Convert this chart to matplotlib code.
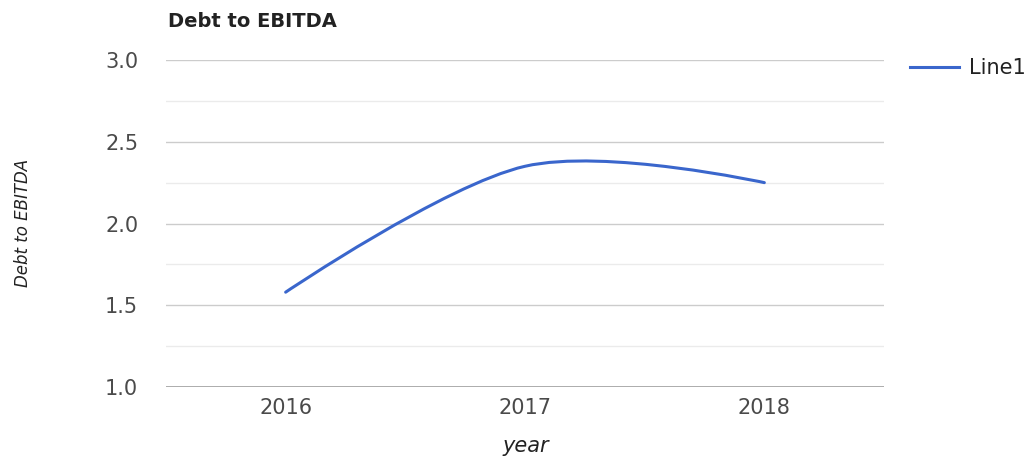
import numpy as np
import matplotlib
matplotlib.use('Agg')
import matplotlib.pyplot as plt
from matplotlib.path import Path
from matplotlib.patches import PathPatch
from matplotlib.lines import Line2D

plt.rcParams['font.family'] = ['DejaVu Sans']

# data
years = [2016, 2017, 2018]
debt_to_ebitda = [1.58, 2.35, 2.25]
series_name = 'Line1'
y_ticks = [1.0, 1.5, 2.0, 2.5, 3.0]

LINE_COLOR = '#3a66cc'
TEXT_COLOR = '#222222'

#smooth curve through the points (cubic bezier, end points get no tangent)
def smooth_path(xs, ys):
	pts = np.column_stack([xs, ys]).astype(float)
	n = len(pts)
	tang = np.zeros_like(pts)
	for i in range(1, n - 1):
		tang[i] = (pts[i+1] - pts[i-1]) / 2.0
	verts = [pts[0]]
	codes = [Path.MOVETO]
	for i in range(n - 1):
		verts += [pts[i] + tang[i] / 3.0, pts[i+1] - tang[i+1] / 3.0, pts[i+1]]
		codes += [Path.CURVE4] * 3
	return Path(verts, codes)

fig = plt.figure(figsize=(10.36, 4.63), dpi=100)
ax = fig.add_axes([0.1602, 0.1641, 0.6931, 0.7063])

ax.set_xlim(2015.5, 2018.5)
ax.set_ylim(1.0, 3.0)

# gridlines
ax.set_yticks(y_ticks)
ax.set_yticks(np.arange(1.25, 3.0, 0.5), minor=True)
ax.yaxis.grid(True, which='major', color='#cccccc', linewidth=1.0)
ax.yaxis.grid(True, which='minor', color='#ebebeb', linewidth=1.0)
ax.axhline(1.0, color='#a0a0a0', linewidth=1.2, zorder=2)
ax.set_axisbelow(True)
for s in ax.spines.values():
	s.set_visible(False)

ax.set_xticks(years)
ax.set_xticklabels([str(y) for y in years])
ax.set_yticklabels(['%.1f' % v for v in y_ticks])
ax.tick_params(axis='both', which='both', length=0, labelsize=15, colors='#4a4a4a')
ax.tick_params(axis='y', pad=20)
ax.tick_params(axis='x', pad=8)

patch = PathPatch(smooth_path(years, debt_to_ebitda), facecolor='none', edgecolor=LINE_COLOR,
	linewidth=2.2, capstyle='round', zorder=3)
ax.add_patch(patch)

fig.text(0.1622, 0.954, 'Debt to EBITDA', fontsize=14, fontweight='bold', color=TEXT_COLOR, va='center', ha='left')
fig.text(0.022, 0.518, 'Debt to EBITDA', fontsize=12, style='italic', color=TEXT_COLOR, rotation=90, va='center', ha='center')
fig.text(0.508, 0.036, 'year', fontsize=15, style='italic', color=TEXT_COLOR, va='center', ha='center')

# legend
handle = Line2D([], [], color=LINE_COLOR, linewidth=2.2)
leg = fig.legend([handle], [series_name], loc='center left', bbox_to_anchor=(0.878, 0.853),
	frameon=False, fontsize=15, handlelength=2.35, handletextpad=0.5, borderpad=0, borderaxespad=0)
for t in leg.get_texts():
	t.set_color(TEXT_COLOR)

plt.savefig('out.png', dpi=100)
